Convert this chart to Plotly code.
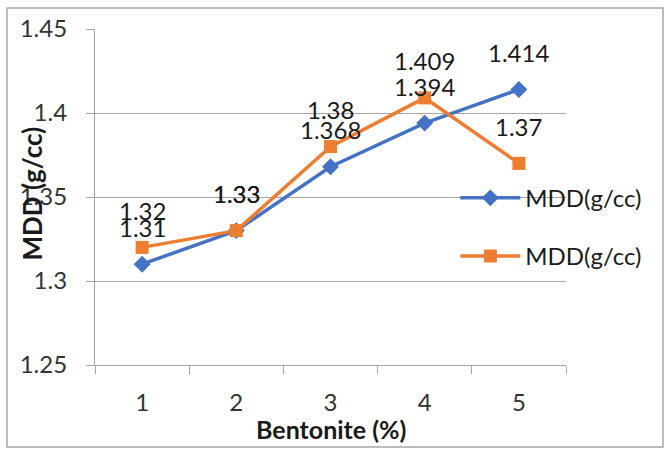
import plotly.graph_objects as go

# Bentonite content (%) and maximum dry density (g/cc) for the two test series
bentonite = ["1", "2", "3", "4", "5"]
mdd_series_a = [1.31, 1.33, 1.368, 1.394, 1.414]
mdd_series_b = [1.32, 1.33, 1.38, 1.409, 1.37]
series_names = ["MDD(g/cc)", "MDD(g/cc)"]

y_tick_values = [1.25, 1.30, 1.35, 1.40, 1.45]
y_tick_labels = ["1.25", "1.3", "1.35", "1.4", "1.45"]

BLUE = "#4472C4"
ORANGE = "#ED7D31"
GRID = "#a6a6a6"
FONT = "Lato, Carlito, 'Open Sans', sans-serif"
TXT = 24

fig = go.Figure()

fig.add_trace(go.Scatter(
    x=bentonite, y=mdd_series_a, name=series_names[0], mode="lines+markers",
    line=dict(color=BLUE, width=3.5),
    marker=dict(symbol="diamond", size=13, color=BLUE),
    legendgroup="a", hoverinfo="skip",
))
fig.add_trace(go.Scatter(
    x=bentonite, y=mdd_series_b, name=series_names[1], mode="lines+markers",
    line=dict(color=ORANGE, width=3.5),
    marker=dict(symbol="square", size=13, color=ORANGE),
    legendgroup="b", hoverinfo="skip",
))

# value labels above each point (category axis positions are indices)
annotations = []
for ys in (mdd_series_a, mdd_series_b):
    for i, yv in enumerate(ys):
        annotations.append(dict(
            x=i, y=yv, xref="x", yref="y", text=f"{yv:g}", showarrow=False,
            xanchor="center", yanchor="middle", yshift=37,
            font=dict(family=FONT, size=TXT, color="#1a1a1a"),
        ))

# axis titles
annotations.append(dict(
    x=0.5, y=-0.19, xref="paper", yref="paper", text="<b>Bentonite (%)</b>",
    showarrow=False, xanchor="center", yanchor="middle",
    font=dict(family=FONT, size=25, color="#1a1a1a"),
))
annotations.append(dict(
    x=-0.134, y=0.51, xref="paper", yref="paper", text="<b>MDD (g/cc)</b>",
    showarrow=False, xanchor="center", yanchor="middle", textangle=-90,
    font=dict(family=FONT, size=26, color="#1a1a1a"),
))

fig.update_layout(
    width=670, height=451,
    margin=dict(l=95, r=104, t=29, b=86),
    paper_bgcolor="white", plot_bgcolor="white",
    font=dict(family=FONT, size=TXT, color="#333333"),
    showlegend=True,
    legend=dict(
        x=0.765, y=0.41, xanchor="left", yanchor="middle",
        bgcolor="rgba(0,0,0,0)", tracegroupgap=24,
        font=dict(family=FONT, size=TXT, color="#1a1a1a"),
        itemwidth=60,
    ),
    annotations=annotations,
    shapes=[dict(
        type="rect", xref="paper", yref="paper",
        x0=(7 - 95) / 471, x1=(663 - 95) / 471,
        y0=(365 - 447) / 336, y1=(365 - 8) / 336,
        line=dict(color=GRID, width=1.5), fillcolor="rgba(0,0,0,0)", layer="below",
    )],
)

fig.update_xaxes(
    type="category", tickson="boundaries", ticks="outside", ticklen=8,
    tickcolor=GRID, tickwidth=1.2, showline=True, linecolor=GRID, linewidth=1.2,
    showgrid=False, ticklabelstandoff=16, range=[-0.5, 4.5],
    tickfont=dict(family=FONT, size=TXT, color="#333333"),
)
fig.update_yaxes(
    range=[1.25, 1.45], tickvals=y_tick_values, ticktext=y_tick_labels,
    ticks="outside", ticklen=8, tickcolor=GRID, tickwidth=1.2,
    showline=True, linecolor=GRID, linewidth=1.2,
    showgrid=True, gridcolor=GRID, gridwidth=1.2, zeroline=False,
    ticklabelstandoff=14,
    tickfont=dict(family=FONT, size=TXT, color="#333333"),
)

fig.write_html("out.html")
